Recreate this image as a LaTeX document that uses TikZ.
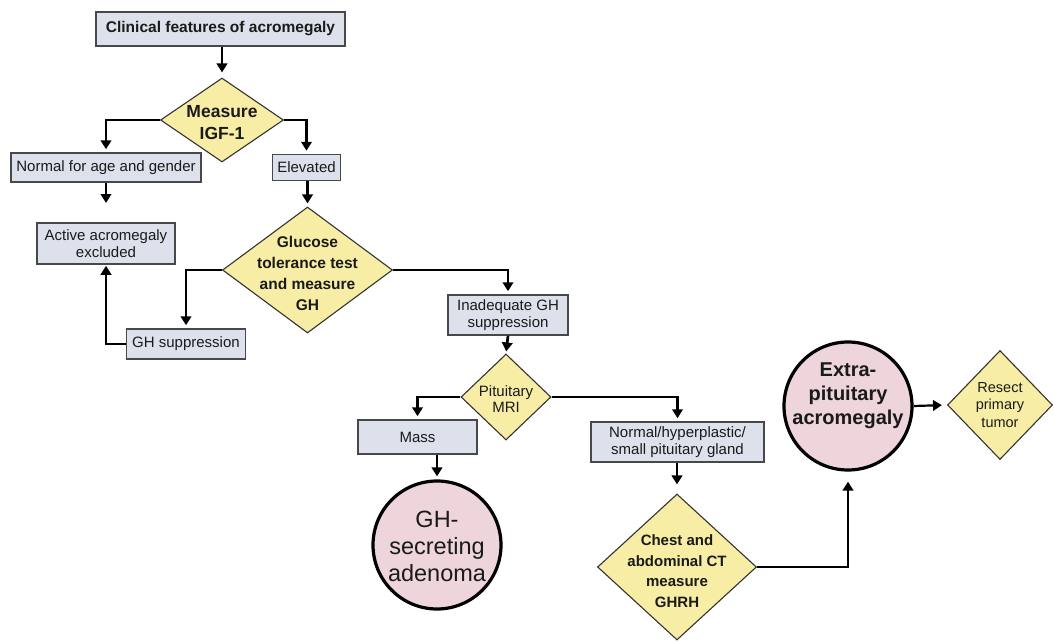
\documentclass[tikz,border=0pt]{standalone}
\usepackage{fontspec}
\setmainfont{Liberation Sans}
\usetikzlibrary{shapes.geometric,arrows.meta}

\definecolor{boxfill}{HTML}{DDE1EC}
\definecolor{boxline}{HTML}{484848}
\definecolor{diafill}{HTML}{F7EDA5}
\definecolor{circfill}{HTML}{EDD5DB}
\definecolor{ink}{HTML}{1A1A1A}

\newcommand{\fsz}[2]{\fontsize{#1}{#2}\selectfont}

\begin{document}
\begin{tikzpicture}[x=1pt,y=-1pt,
  box/.style={draw=boxline, fill=boxfill, line width=1.5pt, inner sep=0pt,
              align=center, text=ink, font=\fsz{15}{16.5}},
  diam/.style={shape=diamond, draw=black!80, fill=diafill, line width=1.1pt, inner sep=0pt},
  dtext/.style={align=center, text=ink, inner sep=0pt},
  outcome/.style={circle, draw=black, fill=circfill, line width=3.2pt, inner sep=0pt},
  flow/.style={line width=2.7pt, -{Triangle[length=9pt,width=10.5pt]}, shorten >=3pt}]

\useasboundingbox (0,0) rectangle (1054,642);

% boxes
\node[box, minimum width=249, minimum height=34, font=\fsz{15.5}{18}\bfseries] (clin) at (220.5,29) {Clinical features of acromegaly};
\node[box, minimum width=190, minimum height=29] (normal) at (106,167.5) {Normal for age and gender};
\node[box, minimum width=68, minimum height=26] (elev) at (306.5,167.5) {Elevated};
\node[box, minimum width=138, minimum height=41] (active) at (106,243.5) {Active acromegaly\\excluded};
\node[box, minimum width=119, minimum height=30] (ghs) at (186,344) {GH suppression};
\node[box, minimum width=120, minimum height=40, font=\fsz{15}{17.5}] (inad) at (508,315) {Inadequate GH\\suppression};
\node[box, minimum width=119, minimum height=34] (mass) at (417.5,437) {Mass};
\node[box, minimum width=173, minimum height=40] (norm2) at (677.5,442) {Normal/hyperplastic/\\small pituitary gland};

% decision diamonds
\node[diam, minimum width=123, minimum height=84,
  label={[dtext, font=\fsz{17.5}{22}\bfseries, yshift=-3pt]center:Measure\\IGF-1}] (igf) at (222,120) {};
\node[diam, minimum width=170, minimum height=126,
  label={[dtext, font=\fsz{15.5}{21}\bfseries, yshift=-3pt]center:Glucose\\tolerance test\\and measure\\GH}] (gluc) at (307.5,270) {};
\node[diam, minimum width=90, minimum height=86,
  label={[dtext, font=\fsz{15}{16}, yshift=-2pt]center:Pituitary\\MRI}] (mri) at (506,397) {};
\node[diam, minimum width=159, minimum height=146,
  label={[dtext, font=\fsz{15}{20.7}\bfseries, yshift=-4pt]center:Chest and\\abdominal CT\\measure\\GHRH}] (chest) at (677,567) {};
\node[diam, minimum width=105, minimum height=109,
  label={[dtext, font=\fsz{14.5}{17.5}]center:Resect\\primary\\tumor}] (resect) at (1000,405) {};

% outcomes
\node[outcome, minimum size=128,
  label={[dtext, font=\fsz{23.5}{27}, yshift=-1pt]center:GH-\\secreting\\adenoma}] (ghsec) at (437,545) {};
\node[outcome, minimum size=128,
  label={[dtext, font=\fsz{20}{24}\bfseries, yshift=10pt]center:Extra-\\pituitary\\acromegaly}] (extra) at (848,406) {};

% loose end below the normal-result box
\coordinate (normend) at (106,206);

% connectors
\draw[flow, shorten >=5pt] (clin.south -| igf.north) -- (igf.north);
\draw[flow] (igf.west) -| (normal.north);
\draw[flow] (igf.east) -| (elev.north);
\draw[flow] (normal.south) -- (normend);
\draw[flow] (elev.south -| gluc.north) -- (gluc.north);
\draw[flow] (gluc.west) -| (ghs.north);
\draw[flow, shorten >=1pt] (ghs.west) -| (active.south);
\draw[flow] (gluc.east) -| (inad.north);
\draw[flow, shorten >=2pt] (inad.south) -- (mri.north);
\draw[flow] (mri.west) -| (mass.north);
\draw[flow] (mri.east) -| (norm2.north);
\draw[flow] (ghsec.north |- mass.south) -- (ghsec.north);
\draw[flow, shorten >=9pt] (norm2.south -| chest.north) -- (chest.north);
\draw[flow, shorten >=10pt] (chest.east) -| (extra.south);
\draw[flow, shorten >=5pt, line width=2.2pt] (extra.east) -- (resect.west);

\end{tikzpicture}
\end{document}
